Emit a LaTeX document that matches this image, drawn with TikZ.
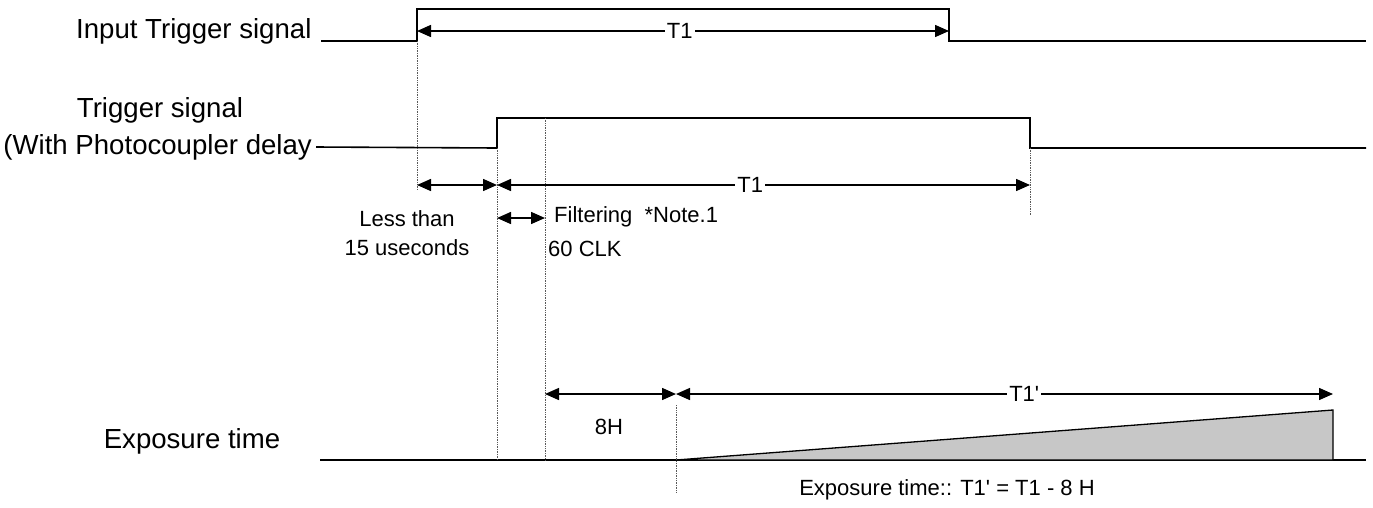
\documentclass[tikz,border=0pt]{standalone}
\usepackage{fontspec}
\newfontfamily\arialf{Liberation Sans}
\usetikzlibrary{arrows.meta}
\begin{document}
\begin{tikzpicture}[x=1pt,y=-1pt,
  sig/.style={line width=1.6pt},
  guide/.style={densely dotted,line width=0.7pt,black!65},
  dim/.style={line width=1.5pt,{Triangle[length=14pt,width=12pt]}-{Triangle[length=14pt,width=12pt]}},
  lbl/.style={font=\arialf\fontsize{22}{26}\selectfont,inner sep=0pt},
  big/.style={font=\arialf\fontsize{27.6}{32}\selectfont,inner sep=0pt},
  cut/.style={font=\arialf\fontsize{22}{26}\selectfont,fill=white,inner sep=2pt}]
\useasboundingbox (0,0) rectangle (1373,507);
% coordinates
\coordinate (a0) at (321,41);
\coordinate (a1) at (417,41);
\coordinate (a2) at (417,9);
\coordinate (a3) at (949,9);
\coordinate (a4) at (949,41);
\coordinate (a5) at (1366,41);
\coordinate (b1) at (497,148);
\coordinate (b2) at (497,118);
\coordinate (b3) at (1030,118);
\coordinate (b4) at (1030,148);
\coordinate (b5) at (1366,148);
\coordinate (e0) at (320,460);
\coordinate (e5) at (1366,460);
\coordinate (ts) at (676,460);
\coordinate (tt) at (1333,410);
\coordinate (tb) at (1333,460);
% labels
\node[big,anchor=west] (lin) at (76,31) {Input Trigger signal};
\node[big] (ltr) at (160,110) {Trigger signal};
\node[big,anchor=east] (lph) at (312,147) {(With Photocoupler delay};
\node[big] (lex) at (192,441) {Exposure time};
% signals
\draw[sig] (a0) -- (a1) -- (a2) -- (a3) -- (a4) -- (a5);
\coordinate (b0) at ([xshift=4pt]lph.east);
\draw[sig] (b0) -- (b1) -- (b2) -- (b3) -- (b4) -- (b5);
\draw[sig] (e0) -- (e5);
\draw[sig,line width=1.3pt,fill=black!22] (ts) -- (tt) -- (tb) -- cycle;
% guides
\coordinate (g1a) at (417,190);
\coordinate (g2a) at (497,460);
\coordinate (g3t) at (545,118);
\coordinate (g3a) at (545,460);
\coordinate (g4a) at (1030,215);
\coordinate (g5t) at (676,405);
\coordinate (g5a) at (676,492);
\draw[guide] (a1) -- (g1a);
\draw[guide] (b1) -- (g2a);
\draw[guide] (g3t) -- (g3a);
\draw[guide] (b4) -- (g4a);
\draw[guide] (g5t) -- (g5a);
% dimension arrows
\coordinate (d1l) at (417,31);
\coordinate (d1r) at (949,31);
\draw[dim] (d1l) -- node[cut,pos=0.494] (t1a) {T1} (d1r);
\coordinate (d2l) at (417,185);
\coordinate (d2r) at (497,185);
\draw[dim] (d2l) -- (d2r);
\coordinate (d3l) at (497,185);
\coordinate (d3r) at (1030,185);
\draw[dim] (d3l) -- node[cut,pos=0.475] (t1b) {T1} (d3r);
\coordinate (d4l) at (497,218);
\coordinate (d4r) at (545,218);
\draw[dim] (d4l) -- (d4r);
\coordinate (d5l) at (545,394);
\coordinate (d5r) at (676,394);
\draw[dim] (d5l) -- (d5r);
\coordinate (d6l) at (676,394);
\coordinate (d6r) at (1333,394);
\draw[dim] (d6l) -- node[cut,pos=0.53] (t1c) {T1'} (d6r);
% text
\node[lbl] (less) at (407,219) {Less than};
\node[lbl] (useq) at (407,248) {15 useconds};
\node[lbl,anchor=west] (filt) at (554,217) {Filtering\ \ *Note.1};
\node[lbl,anchor=west] (clk) at (548,249) {60 CLK};
\node[lbl] (eh) at (609,427) {8H};
\node[lbl] (form) at (947,490) {Exposure time:: T1' = T1 - 8 H};
\end{tikzpicture}
\end{document}
